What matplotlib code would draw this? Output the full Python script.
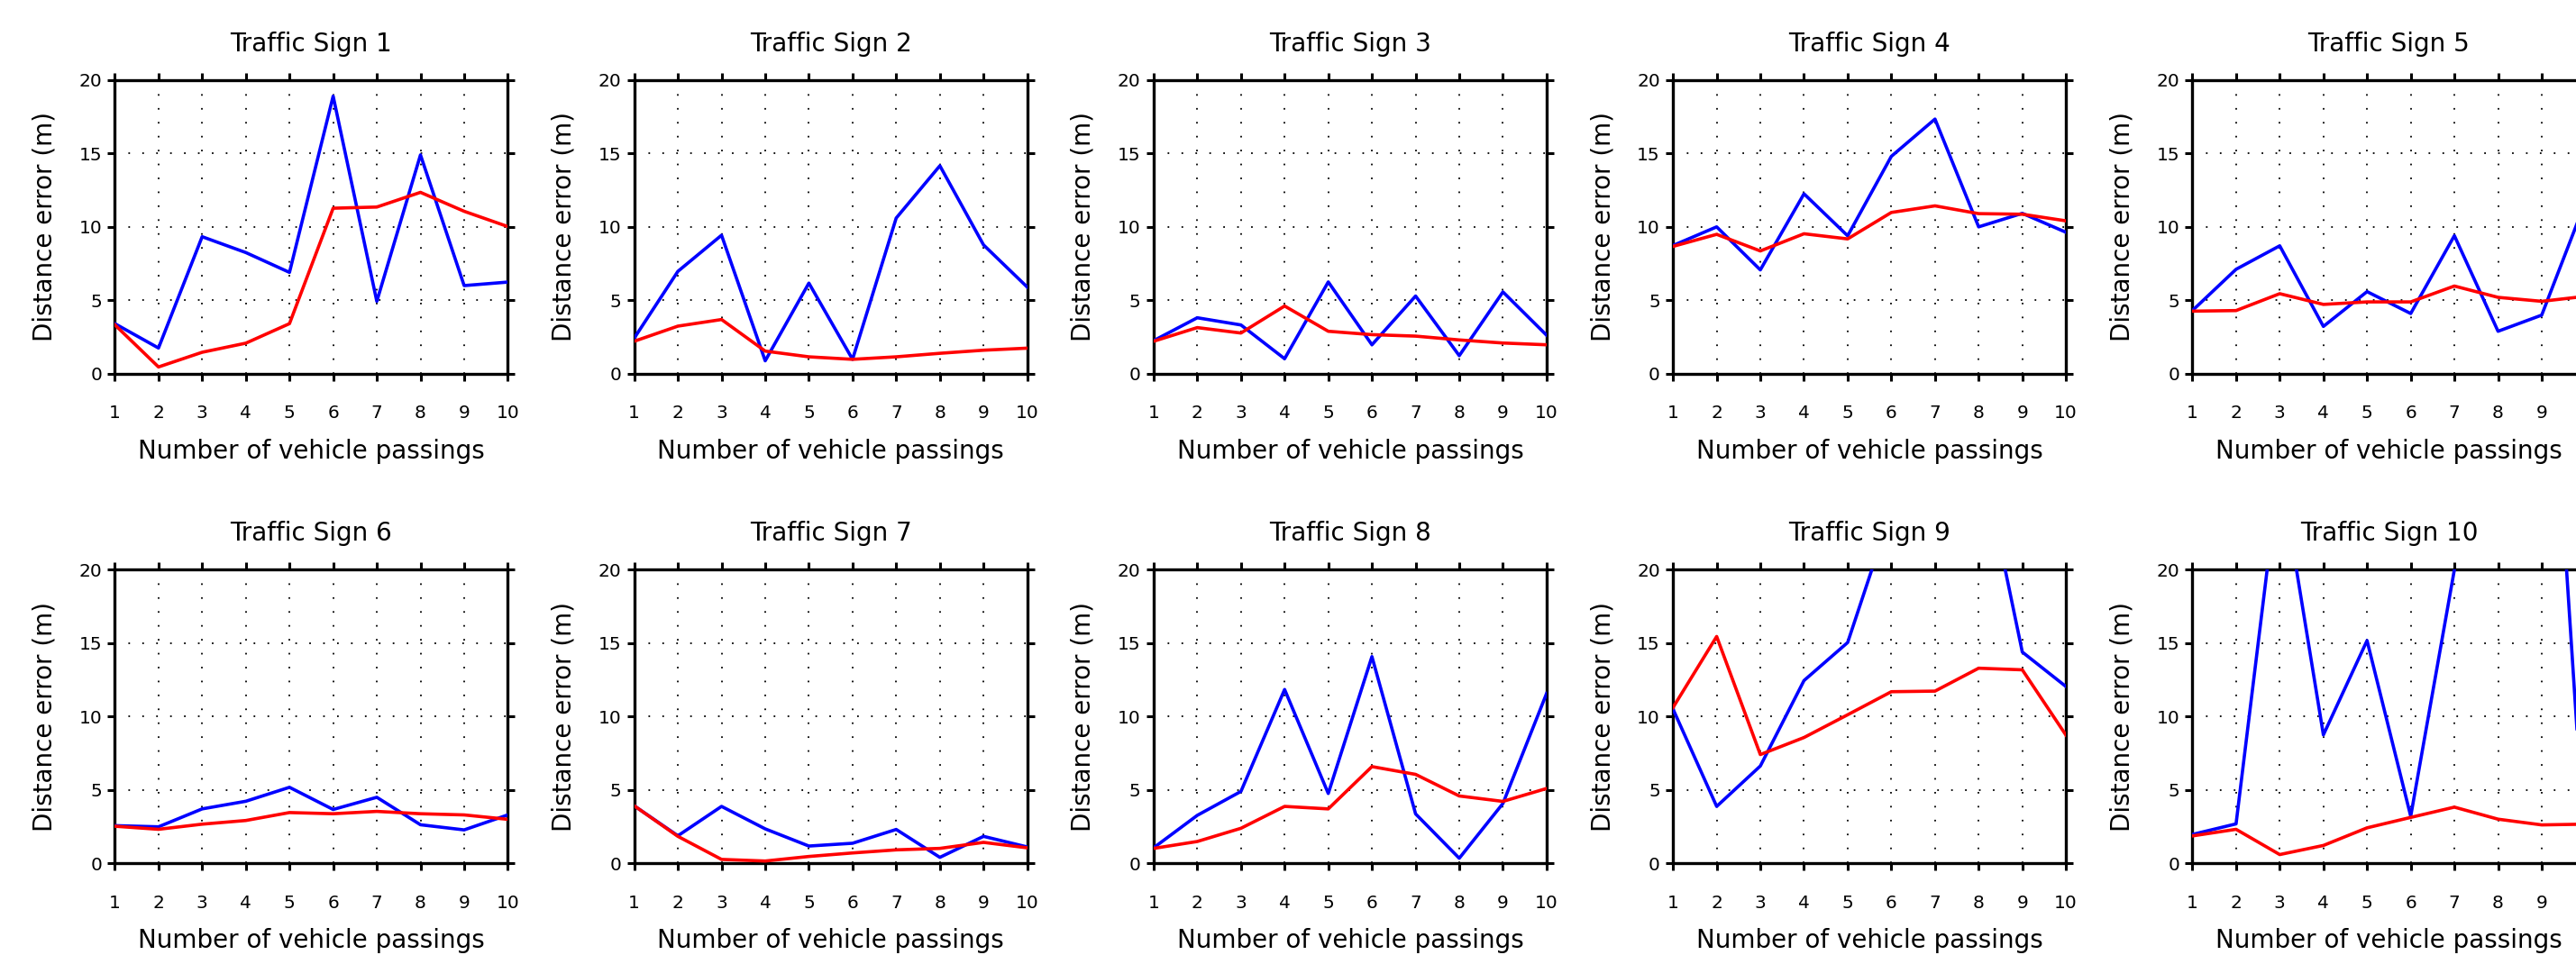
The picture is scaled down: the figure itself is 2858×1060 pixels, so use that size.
import matplotlib.pyplot as plt

# Number of vehicle passings (x axis)
passings = [1, 2, 3, 4, 5, 6, 7, 8, 9, 10]

# Distance error (m) for each traffic sign: blue and red curves
sign1_blue = [3.41, 1.75, 9.33, 8.25, 6.9, 18.9, 4.93, 14.9, 6.0, 6.24]
sign1_red = [3.33, 0.46, 1.46, 2.08, 3.41, 11.27, 11.35, 12.35, 11.06, 10.02]
sign2_blue = [2.42, 6.97, 9.43, 0.88, 6.17, 0.98, 10.6, 14.16, 8.77, 5.9]
sign2_red = [2.21, 3.24, 3.69, 1.54, 1.15, 0.98, 1.15, 1.39, 1.6, 1.74]
sign3_blue = [2.25, 3.81, 3.32, 1.02, 6.25, 1.97, 5.29, 1.23, 5.57, 2.62]
sign3_red = [2.21, 3.14, 2.77, 4.61, 2.89, 2.66, 2.56, 2.30, 2.09, 1.97]
sign4_blue = [8.73, 10.0, 7.07, 12.25, 9.39, 14.8, 17.34, 10.0, 10.92, 9.63]
sign4_red = [8.67, 9.49, 8.36, 9.53, 9.18, 10.98, 11.43, 10.9, 10.86, 10.41]
sign5_blue = [4.3, 7.11, 8.71, 3.22, 5.59, 4.1, 9.4, 2.89, 3.99, 11.7]
sign5_red = [4.26, 4.3, 5.45, 4.72, 4.89, 4.89, 5.97, 5.2, 4.93, 5.27]
sign6_blue = [2.57, 2.49, 3.71, 4.23, 5.18, 3.67, 4.5, 2.63, 2.28, 3.3]
sign6_red = [2.53, 2.32, 2.67, 2.92, 3.46, 3.38, 3.54, 3.38, 3.3, 3.0]
sign7_blue = [3.92, 1.88, 3.88, 2.35, 1.18, 1.37, 2.31, 0.41, 1.84, 1.12]
sign7_red = [3.92, 1.84, 0.27, 0.16, 0.47, 0.71, 0.92, 1.02, 1.43, 1.06]
sign8_blue = [1.06, 3.27, 4.9, 11.84, 4.76, 14.08, 3.37, 0.35, 4.08, 11.57]
sign8_red = [1.02, 1.49, 2.39, 3.88, 3.71, 6.59, 6.06, 4.59, 4.22, 5.1]
sign9_blue = [10.51, 3.88, 6.63, 12.45, 15.04, 24.0, 27.0, 28.7, 14.39, 12.04]
sign9_red = [10.61, 15.45, 7.41, 8.57, 10.12, 11.69, 11.73, 13.29, 13.18, 8.73]
sign10_blue = [1.97, 2.69, 27.0, 8.75, 15.17, 3.21, 20.0, 35.0, 46.0, 0.3]
sign10_red = [1.87, 2.32, 0.6, 1.22, 2.42, 3.13, 3.83, 3.01, 2.62, 2.67]

blue_series = [sign1_blue, sign2_blue, sign3_blue, sign4_blue, sign5_blue,
               sign6_blue, sign7_blue, sign8_blue, sign9_blue, sign10_blue]
red_series = [sign1_red, sign2_red, sign3_red, sign4_red, sign5_red,
              sign6_red, sign7_red, sign8_red, sign9_red, sign10_red]

W, H = 2858, 1060
fig = plt.figure(figsize=(W / 100, H / 100), dpi=100)

ax_w = 436 / W
ax_h = 326 / H
lefts = [(127.4 + i * 576.25) / W for i in range(5)]
bottoms = [645.2 / H, 101.7 / H]

for k in range(10):
    r, c = divmod(k, 5)
    ax = fig.add_axes([lefts[c], bottoms[r], ax_w, ax_h])
    ax.plot(passings, blue_series[k], color='#0000ff', lw=2.6, zorder=3)
    ax.plot(passings, red_series[k], color='#ff0000', lw=2.6, zorder=3)

    ax.set_xlim(1, 10)
    ax.set_ylim(0, 20)
    ax.set_xticks(passings)
    ax.set_yticks([0, 5, 10, 15, 20])
    ax.grid(True, color='k', linestyle=(0, (1, 7.55)), linewidth=1.3)

    ax.tick_params(direction='out', length=5.8, width=2.2, top=True, right=True,
                   labelsize=14.5)
    ax.tick_params(axis='x', pad=19)
    ax.tick_params(axis='y', pad=4.5)
    for sp in ax.spines.values():
        sp.set_linewidth(2.4)

    ax.set_title(f'Traffic Sign {k + 1}', fontsize=20, y=1.0985, pad=0)
    ax.set_xlabel('Number of vehicle passings', fontsize=20)
    ax.set_ylabel('Distance error (m)', fontsize=20)
    ax.xaxis.set_label_coords(0.5, -0.2206)
    ax.yaxis.set_label_coords(-0.147, 0.5)

fig.savefig('out.png', dpi=100)
